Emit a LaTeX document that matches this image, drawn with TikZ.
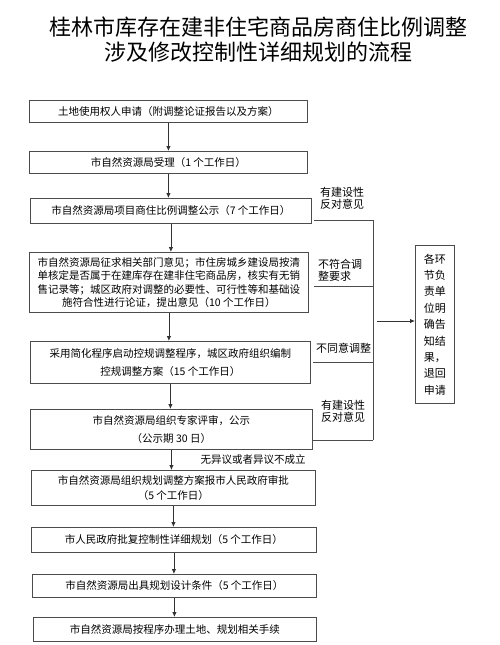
\documentclass[tikz,border=0pt]{standalone}
\usepackage{fontspec}
\setmainfont{Noto Sans CJK SC}
\usetikzlibrary{arrows.meta}
\begin{document}
\begin{tikzpicture}[x=1pt,y=-1pt,
  box/.style={draw=black!70,line width=0.8pt,inner sep=0pt,align=center,anchor=north west,
    font=\fontsize{10.5}{14}\selectfont},
  arr/.style={-{Latex[length=5pt,width=4.5pt]},line width=0.8pt,draw=black!80},
  lbl/.style={font=\fontsize{11}{12}\selectfont,align=left,inner sep=0pt,anchor=west},
  ln/.style={line width=0.8pt,draw=black!70},
  ttl/.style={font=\fontsize{22}{25}\selectfont,inner sep=0pt}]
\useasboundingbox[fill=white] (0,0) rectangle (500,645);

\node[ttl] (t1) at (258.5,27) {桂林市库存在建非住宅商品房商住比例调整};
\node[ttl] (t2) at (258.5,52) {涉及修改控制性详细规划的流程};

\node[box,minimum width=278pt,minimum height=22pt] (b1) at (29,100) {土地使用权人申请（附调整论证报告以及方案）};
\node[box,minimum width=278pt,minimum height=22pt] (b2) at (29,151) {市自然资源局受理（1 个工作日）};
\node[box,minimum width=281pt,minimum height=25pt] (b3) at (30,198) {市自然资源局项目商住比例调整公示（7 个工作日）};
\node[box,minimum width=279pt,minimum height=60pt,font=\fontsize{10.5}{13.5}\selectfont] (b4) at (29,252) {市自然资源局征求相关部门意见；市住房城乡建设局按清\\单核定是否属于在建库存在建非住宅商品房，核实有无销\\售记录等；城区政府对调整的必要性、可行性等和基础设\\施符合性进行论证，提出意见（10 个工作日）};
\node[box,minimum width=280pt,minimum height=42pt,font=\fontsize{10.5}{18}\selectfont] (b5) at (30,341) {采用简化程序启动控规调整程序，城区政府组织编制\\控规调整方案（15 个工作日）};
\node[box,minimum width=282pt,minimum height=40pt,font=\fontsize{10.5}{18}\selectfont] (b6) at (30,409) {市自然资源局组织专家评审，公示\\（公示期 30 日）};
\node[box,minimum width=284pt,minimum height=35pt,font=\fontsize{10.5}{15}\selectfont] (b7) at (31,470) {市自然资源局组织规划调整方案报市人民政府审批\\（5 个工作日）};
\node[box,minimum width=285pt,minimum height=25pt] (b8) at (31,527) {市人民政府批复控制性详细规划（5 个工作日）};
\node[box,minimum width=284pt,minimum height=23pt] (b9) at (32,574) {市自然资源局出具规划设计条件（5 个工作日）};
\node[box,minimum width=283pt,minimum height=24pt] (b10) at (33,617) {市自然资源局按程序办理土地、规划相关手续};

\node[box,minimum width=39pt,minimum height=158pt,font=\fontsize{11}{16.4}\selectfont] (rb) at (415,245) {各环\\节负\\责单\\位明\\确告\\知结\\果，\\退回\\申请};

% vertical arrows
\foreach \a/\b in {b1/b2,b2/b3,b3/b4,b4/b5,b5/b6,b6/b7,b7/b8,b8/b9,b9/b10}
  \draw[arr] (\a.south) -- (\a.south |- \b.north);

\node[font=\fontsize{10.5}{12}\selectfont,inner sep=0pt] (ny) at (253,460) {无异议或者异议不成立};

% right bracket
\coordinate (s1) at (314,220);
\coordinate (s2) at (314,286);
\coordinate (s3) at (313,362);
\coordinate (s4) at (313,440);
\coordinate (e1) at (373,220);
\coordinate (e2) at (373,286);
\coordinate (e3) at (373,362);
\coordinate (e4) at (373,440);
\coordinate (am) at (377,321);
\draw[ln] (s1) -- (e1);
\draw[ln] (s2) -- (e2);
\draw[ln] (s3) -- (e3);
\draw[ln] (s4) -- (e4);
\draw[ln] (e1) -- (e4);
\draw[arr] (am) -- (am -| rb.west);

\node[lbl] (l1) at (320,198) {有建设性\\反对意见};
\node[lbl] (l2) at (318,270) {不符合调\\整要求};
\node[lbl] (l3) at (316,348) {不同意调整};
\node[lbl] (l4) at (321,411) {有建设性\\反对意见};
\end{tikzpicture}
\end{document}
